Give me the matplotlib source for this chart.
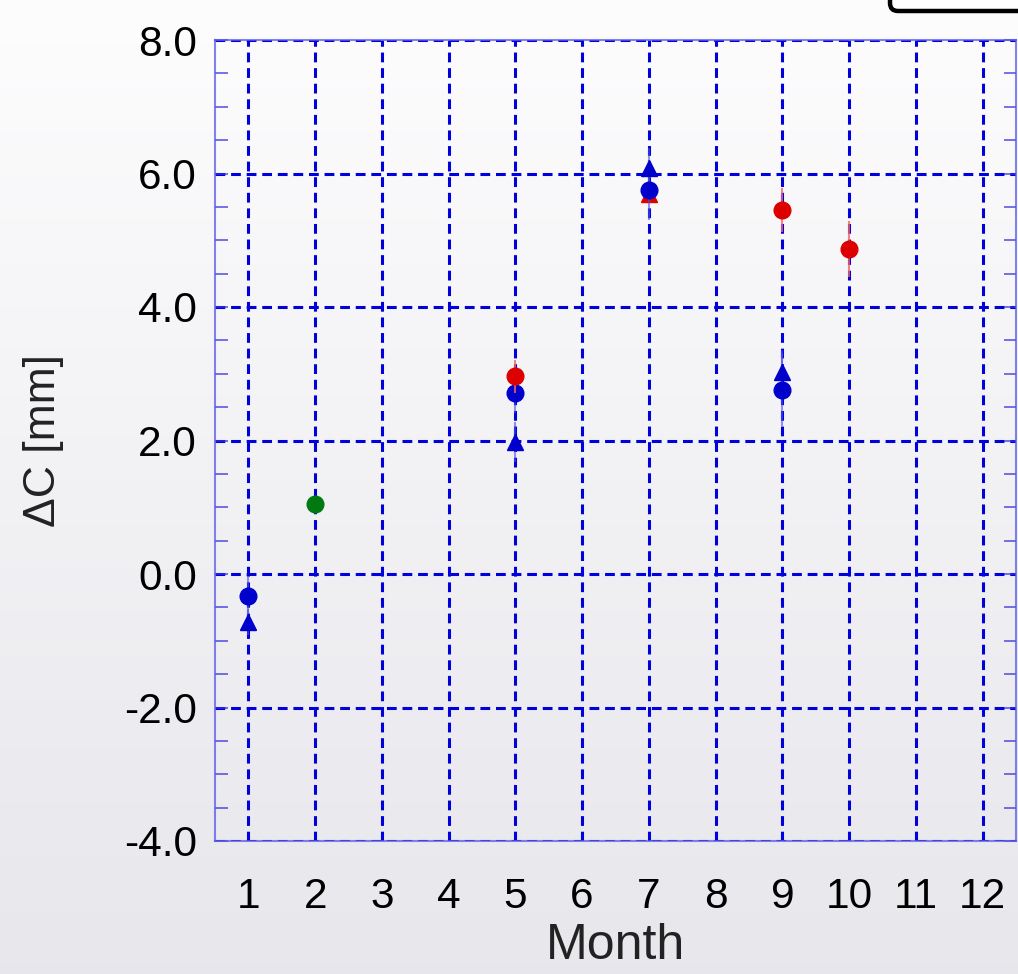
import numpy as np
import matplotlib
matplotlib.use("Agg")
import matplotlib.pyplot as plt
from matplotlib.patches import FancyBboxPatch
from matplotlib.ticker import MultipleLocator, FormatStrFormatter

plt.rcParams['font.family'] = ['Liberation Sans', 'DejaVu Sans']
plt.rcParams['axes.unicode_minus'] = False

# ---- data ----
months = list(range(1, 13))
blue_c_x = [1, 5, 7, 9]
blue_c_y = [-0.33, 2.71, 5.75, 2.76]
blue_c_e = [0.30, 0.30, 0.45, 0.55]

blue_t_x = [1, 5, 7, 9]
blue_t_y = [-0.72, 1.98, 6.08, 3.03]
blue_t_e = [0.20, 0.30, 0.30, 0.33]

red_c_x = [5, 9, 10]
red_c_y = [2.96, 5.46, 4.87]
red_c_e = [0.25, 0.33, 0.42]

red_t_x = [7]
red_t_y = [5.70]
red_t_e = [0.10]

green_c_x = [2]
green_c_y = [1.05]
green_c_e = [0.05]

W, H = 1018, 974
fig = plt.figure(figsize=(W / 100, H / 100), dpi=100)

# background gradient
bg = fig.add_axes([0, 0, 1, 1], zorder=-10)
grad = np.linspace(0, 1, 256)[:, None]
top = np.array([0.992, 0.992, 0.995])
bot = np.array([0.905, 0.905, 0.925])
img = top[None, None, :] * (1 - grad[:, :, None]) + bot[None, None, :] * grad[:, :, None]
img = np.repeat(img, 4, axis=1)
bg.imshow(img, extent=[0, W, H, 0], aspect='auto', interpolation='bilinear')
bg.set_xlim(0, W)
bg.set_ylim(H, 0)
bg.axis('off')
box = FancyBboxPatch((890, -30), 200, 41, boxstyle="round,pad=0,rounding_size=8",
                     facecolor='white', edgecolor='black', linewidth=3.2)
bg.add_patch(box)

ax = fig.add_axes([215 / W, (H - 841) / H, (1016 - 215) / W, (841 - 40) / H])
ax.patch.set_alpha(0)

blue = '#0000cc'
red = '#dd0000'
green = '#007a10'
ms = 12

ax.errorbar(blue_c_x, blue_c_y, yerr=blue_c_e, fmt='o', color=blue, ms=ms,
            ecolor=(0.3, 0.3, 0.9, 0.6), elinewidth=1.5, capsize=0, zorder=5)
ax.errorbar(blue_t_x, blue_t_y, yerr=blue_t_e, fmt='^', color=blue, ms=ms,
            ecolor=(0.3, 0.3, 0.9, 0.6), elinewidth=1.5, capsize=0, zorder=5)
ax.errorbar(red_t_x, red_t_y, yerr=red_t_e, fmt='^', color=red, ms=ms,
            ecolor=(0.95, 0.4, 0.4, 0.8), elinewidth=1.5, capsize=0, zorder=4)
ax.errorbar(red_c_x, red_c_y, yerr=red_c_e, fmt='o', color=red, ms=ms,
            ecolor=(0.95, 0.4, 0.4, 0.8), elinewidth=1.5, capsize=0, zorder=6)
ax.errorbar(green_c_x, green_c_y, yerr=green_c_e, fmt='o', color=green, ms=ms,
            ecolor=(0.3, 0.7, 0.3, 0.6), elinewidth=1.5, capsize=0, zorder=5)

ax.set_xlim(0.5, 12.5)
ax.set_ylim(-4.0, 8.0)
ax.set_xticks(months)
ax.set_xticklabels([str(m) for m in months])
ax.yaxis.set_major_locator(MultipleLocator(2.0))
ax.yaxis.set_minor_locator(MultipleLocator(0.5))
ax.yaxis.set_major_formatter(FormatStrFormatter('%.1f'))

gridcol = '#0000dd'
ax.grid(True, which='major', axis='both', color=gridcol, linewidth=2.2,
        linestyle=(0, (3.2, 1.9)), zorder=1)
ax.set_axisbelow(True)

spc = (0.35, 0.35, 0.9, 0.75)
for s in ax.spines.values():
    s.set_color(spc)
    s.set_linewidth(1.5)

ax.tick_params(axis='x', length=0, labelsize=30.5, pad=26, colors='black')
ax.tick_params(axis='y', which='both', direction='in', length=9, width=1.2,
               color=(0.2, 0.2, 0.85, 0.8), left=True, right=True,
               labelsize=30.5, pad=13)
ax.tick_params(axis='y', which='minor', labelleft=False)

ax.set_xlabel('Month', fontsize=36, labelpad=4, color='#222222')
ax.set_ylabel('ΔC [mm]', fontsize=32, labelpad=43, color='#222222')

fig.savefig('out.png', dpi=100)
